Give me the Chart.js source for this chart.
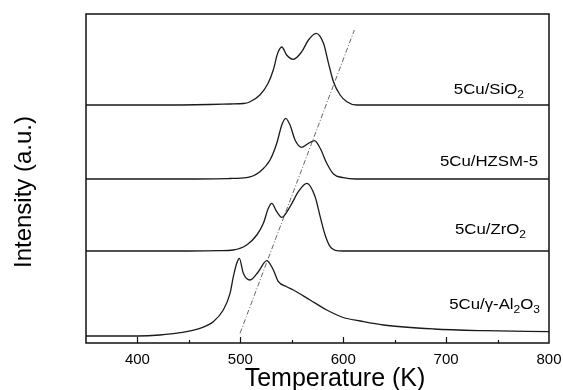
<!DOCTYPE html>
<html>
<head>
<meta charset="utf-8">
<script src="https://cdn.jsdelivr.net/npm/chart.js@4.4.0/dist/chart.umd.min.js"></script>
<style>
  html, body { margin: 0; padding: 0; background: #fff; }
  #wrap { width: 563px; height: 390px; }
</style>
</head>
<body>
<div id="wrap"><canvas id="tpr"></canvas></div>
<script>
// TPR profiles, intensity above each curve's own baseline (a.u.)
const sioT = [350, 420, 470, 490, 503, 509, 519, 527, 532, 536.3, 540.3, 545, 551.6, 559.7, 566.2, 573.7, 580.8, 585.7, 590.5, 597, 603.5, 613, 650, 700, 800];
const sioH = [0, 0, 0.5, 1, 1.5, 3, 10, 21.7, 35, 51.7, 58, 50, 45.7, 53.3, 65, 71.7, 61.7, 41.7, 23.3, 10, 3.3, 0, 0, 0, 0];

const hzsmT = [350, 450, 490, 506, 519, 528.9, 535.4, 540.3, 544.1, 548.3, 553.2, 559.7, 566.2, 572, 577.6, 584, 590.5, 600.2, 612, 800];
const hzsmH = [0, 0, 0.5, 1.3, 7.3, 19, 35.7, 54, 60.7, 54, 39, 31.7, 35.7, 38.3, 30.7, 15.7, 5, 1.3, 0, 0];

const zroT = [350, 450, 480, 493, 506.2, 516, 522.4, 527.2, 530.5, 535.4, 540.3, 548.3, 556.4, 564.6, 572.7, 577.6, 582.4, 587.3, 592.2, 600, 800];
const zroH = [0, 0, 0.3, 1, 6, 16, 27.7, 42.7, 47.7, 39.3, 33.7, 44.3, 59.3, 67.7, 54.3, 34.3, 16, 4.3, 0.7, 0, 0];

const alT = [350, 400, 421.8, 441.2, 460.7, 473.7, 483.4, 490, 493.2, 496.5, 499, 502.9, 509.4, 517.5, 525.7, 532.1, 537, 545, 551.6, 567.8, 584, 600, 616.5, 639, 688, 737, 800];
const alH = [0, 0, 1, 3.3, 7.7, 14.3, 26, 42.7, 59.3, 72.7, 77.7, 62.7, 56, 64.3, 75.3, 66, 54.3, 49.3, 46, 36, 26, 18.5, 15, 11, 7, 5.3, 4.3];

// vertical offsets of the stacked curves
const offsets = [238, 164, 92, 7];

// dash-dot guide line (T, intensity)
const guideT = [499.7, 610.8];
const guideY = [9.7, 313];

// curve labels, pieces marked true are subscripts
const sampleLabels = [
  [['5Cu/SiO', false], ['2', true]],
  [['5Cu/HZSM-5', false]],
  [['5Cu/ZrO', false], ['2', true]],
  [['5Cu/\u03b3-Al', false], ['2', true], ['O', false], ['3', true]]
];

const xTicks = [400, 500, 600, 700, 800];

function pts(t, h, off) {
  let out = [];
  for (let i = 0; i < t.length; i++) {
    out.push({x: t[i], y: h[i] + off});
  }
  return out;
}

function curve(t, h, off) {
  return {
    data: pts(t, h, off),
    borderColor: '#1a1a1a',
    borderWidth: 1.3,
    pointRadius: 0,
    cubicInterpolationMode: 'monotone',
    fill: false
  };
}

const guide = [];
for (let i = 0; i < guideT.length; i++) guide.push({x: guideT[i], y: guideY[i]});

// frame, inner ticks, titles and curve labels
const decor = {
  id: 'decor',
  afterDraw(chart) {
    const ctx = chart.ctx;
    const a = chart.chartArea;
    const xs = chart.scales.x;
    ctx.save();
    ctx.strokeStyle = '#111';
    ctx.lineWidth = 1.5;
    ctx.strokeRect(a.left, a.top, a.right - a.left, a.bottom - a.top);

    ctx.lineWidth = 1.2;
    for (let v = 400; v < 800; v += 50) {
      const px = Math.round(xs.getPixelForValue(v)) + 0.5;
      const len = (v % 100 === 0) ? 6 : 3;
      ctx.beginPath();
      ctx.moveTo(px, a.bottom);
      ctx.lineTo(px, a.bottom - len);
      ctx.stroke();
    }

    ctx.fillStyle = '#000';
    ctx.font = '25px "Liberation Sans", Arial, sans-serif';
    ctx.textAlign = 'center';
    ctx.textBaseline = 'alphabetic';
    ctx.fillText('Temperature (K)', 335, 386);

    ctx.save();
    ctx.translate(31, 192);
    ctx.rotate(-Math.PI / 2);
    ctx.font = '24px "Liberation Sans", Arial, sans-serif';
    ctx.fillText('Intensity (a.u.)', 0, 0);
    ctx.restore();

    const rightEdge = [524, 538, 526, 540];
    const midY = [90, 162, 230, 305];
    const stretch = 1.2;
    ctx.textAlign = 'left';
    ctx.textBaseline = 'middle';
    for (let i = 0; i < sampleLabels.length; i++) {
      let w = 0;
      for (const [txt, sub] of sampleLabels[i]) {
        ctx.font = (sub ? '10px' : '14px') + ' "Liberation Sans", Arial, sans-serif';
        w += ctx.measureText(txt).width;
      }
      ctx.save();
      ctx.translate(rightEdge[i] - w * stretch, midY[i]);
      ctx.scale(stretch, 1);
      let cx = 0;
      for (const [txt, sub] of sampleLabels[i]) {
        ctx.font = (sub ? '10px' : '14px') + ' "Liberation Sans", Arial, sans-serif';
        ctx.fillText(txt, cx, sub ? 5 : 0);
        cx += ctx.measureText(txt).width;
      }
      ctx.restore();
    }
    ctx.restore();
  }
};

const ctx = document.getElementById('tpr').getContext('2d');
const myChart = new Chart(ctx, {
  type: 'line',
  data: {
    datasets: [
      curve(sioT, sioH, offsets[0]),
      curve(hzsmT, hzsmH, offsets[1]),
      curve(zroT, zroH, offsets[2]),
      curve(alT, alH, offsets[3]),
      {
        data: guide,
        borderColor: '#555',
        borderWidth: 0.9,
        borderDash: [5, 2, 1, 2],
        pointRadius: 0,
        fill: false
      }
    ]
  },
  options: {
    responsive: true,
    maintainAspectRatio: false,
    animation: false,
    layout: { padding: { left: 86, right: 14, top: 14, bottom: 0 } },
    plugins: { legend: { display: false }, tooltip: { enabled: false } },
    scales: {
      x: {
        type: 'linear',
        min: 350,
        max: 800,
        grid: { display: false },
        border: { display: false },
        afterFit: function(s) { s.height = 47; },
        afterBuildTicks: function(s) { s.ticks = xTicks.map(v => ({value: v})); },
        ticks: {
          color: '#000',
          padding: 0,
          maxRotation: 0,
          font: { family: '"Liberation Sans", Arial, sans-serif', size: 15 }
        }
      },
      y: {
        type: 'linear',
        min: 0,
        max: 329,
        display: false
      }
    }
  },
  plugins: [decor]
});
</script>
</body>
</html>
